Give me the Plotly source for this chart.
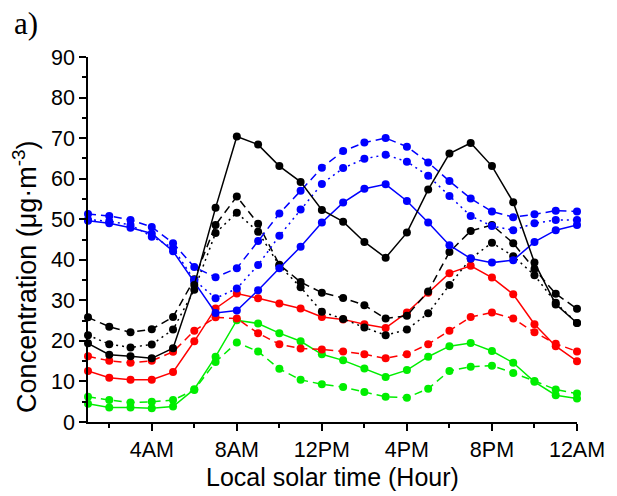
import plotly.graph_objects as go

# Hour of day (local solar time)
hours = list(range(1, 25))

# Hourly concentrations (ug/m3)
black_solid = [19.4, 16.6, 16.2, 15.7, 18.2, 33.8, 52.8, 70.4, 68.4, 63.1, 59.2, 52.3,
               49.4, 44.4, 40.5, 46.7, 57.3, 66.2, 68.8, 63.1, 54.2, 39.3, 29.0, 24.4]
black_dash = [25.8, 23.5, 22.1, 22.9, 25.9, 35.2, 48.6, 55.6, 48.9, 38.8, 34.5, 31.9,
              30.6, 28.8, 25.5, 26.2, 32.2, 41.9, 47.1, 48.6, 44.1, 37.7, 31.6, 27.9]
black_dot = [21.4, 19.2, 18.4, 19.1, 22.8, 32.6, 46.6, 51.6, 46.9, 38.6, 33.2, 27.2,
             25.4, 23.3, 21.4, 22.8, 26.8, 33.8, 40.3, 44.2, 40.9, 36.2, 29.4, 24.4]

blue_solid = [49.6, 49.0, 47.9, 46.5, 42.1, 34.5, 26.9, 27.5, 32.5, 37.9, 43.2, 49.2,
              54.1, 57.5, 58.6, 54.5, 49.2, 43.6, 40.3, 39.3, 39.9, 44.4, 47.3, 48.6]
blue_dash = [51.3, 50.8, 49.8, 48.1, 44.1, 38.2, 35.7, 37.9, 44.6, 51.4, 57.0, 62.7,
             66.8, 68.9, 70.0, 67.9, 64.0, 59.4, 55.1, 51.9, 50.5, 51.2, 52.1, 51.9]
blue_dot = [49.9, 49.5, 48.6, 45.7, 42.9, 35.0, 30.5, 32.9, 38.7, 45.9, 52.4, 58.7,
            62.6, 64.9, 65.9, 64.2, 60.7, 55.7, 50.8, 48.3, 47.3, 49.0, 49.8, 49.8]

red_solid = [12.6, 10.9, 10.4, 10.4, 12.3, 19.9, 28.0, 31.7, 30.5, 29.2, 28.0, 25.9,
             25.3, 24.1, 23.2, 27.0, 31.9, 36.7, 38.5, 35.6, 31.5, 24.1, 18.7, 15.0]
red_dash = [16.2, 15.1, 14.6, 15.1, 17.3, 22.5, 25.8, 25.5, 21.9, 19.2, 18.1, 17.9,
            17.4, 16.7, 15.7, 16.7, 19.2, 22.5, 25.9, 27.0, 25.5, 22.1, 19.3, 17.4]

green_solid = [4.5, 3.6, 3.6, 3.4, 3.8, 8.1, 16.1, 25.1, 24.3, 21.9, 19.9, 16.7,
               15.2, 13.2, 11.1, 12.8, 16.1, 18.7, 19.5, 17.5, 14.6, 9.9, 6.6, 5.8]
green_dash = [6.2, 5.4, 4.8, 5.0, 5.4, 7.9, 14.8, 19.6, 17.4, 13.1, 10.4, 9.3,
              8.6, 7.4, 6.2, 6.0, 8.2, 12.6, 13.6, 13.9, 12.1, 10.1, 8.0, 7.0]

tick_hours = [4, 8, 12, 16, 20, 24]
tick_labels = ["4AM", "8AM", "12PM", "4PM", "8PM", "12AM"]
minor_hours = [2, 6, 10, 14, 18, 22]

BLACK, BLUE, RED, GREEN = "#000000", "#0000ff", "#ff0000", "#00ee00"
DASH = "8px,5px"
DOT = "2px,4px"

series = [
    (green_dash, GREEN, DASH),
    (green_solid, GREEN, "solid"),
    (red_dash, RED, DASH),
    (red_solid, RED, "solid"),
    (black_dot, BLACK, DOT),
    (black_dash, BLACK, DASH),
    (blue_dot, BLUE, DOT),
    (blue_dash, BLUE, DASH),
    (blue_solid, BLUE, "solid"),
    (black_solid, BLACK, "solid"),
]

fig = go.Figure()
for vals, color, dash in series:
    fig.add_trace(go.Scatter(
        x=hours, y=vals, mode="lines+markers",
        line=dict(color=color, width=1.5, dash=dash),
        marker=dict(color=color, size=8, symbol="circle"),
        showlegend=False, cliponaxis=False,
    ))

SANS = "Liberation Sans, Arial, sans-serif"
tick_font = dict(family=SANS, size=21.5, color="black")

fig.update_xaxes(
    range=[1, 24], tickmode="array", tickvals=tick_hours, ticktext=tick_labels,
    ticks="outside", ticklen=7, tickwidth=1.5, tickcolor="black",
    minor=dict(tickmode="array", tickvals=minor_hours,
               ticks="outside", ticklen=4, tickwidth=1.5, tickcolor="black"),
    showline=True, linewidth=1.5, linecolor="black", mirror=False,
    showgrid=False, zeroline=False, tickfont=tick_font,
)
fig.update_yaxes(
    range=[0, 90], tickmode="linear", tick0=0, dtick=10,
    ticks="outside", ticklen=7, tickwidth=1.5, tickcolor="black",
    minor=dict(dtick=5, tick0=0, ticks="outside", ticklen=4, tickwidth=1.5, tickcolor="black"),
    showline=True, linewidth=1.5, linecolor="black", mirror=False,
    showgrid=False, zeroline=False, tickfont=tick_font,
)

W, H = 617, 496
L, R, T, B = 88, 33, 57, 74
PW, PH = W - L - R, H - T - B


def px_x(x):
    return (x - L) / PW


def px_y(y):
    return 1 - (y - T) / PH


fig.update_layout(
    width=W, height=H,
    margin=dict(l=L, r=R, t=T, b=B),
    plot_bgcolor="white", paper_bgcolor="white",
    annotations=[
        dict(text="a)", xref="paper", yref="paper", x=px_x(11), y=px_y(4),
             xanchor="left", yanchor="top", showarrow=False,
             font=dict(family="Liberation Serif, Times New Roman, serif", size=31, color="black")),
        dict(text="Local solar time (Hour)", xref="paper", yref="paper",
             x=0.5, y=px_y(477), xanchor="center", yanchor="middle", showarrow=False,
             font=dict(family=SANS, size=25, color="black")),
        dict(text="Concentration (\u03bcg\u00b7m<sup>-3</sup>)", xref="paper", yref="paper",
             x=px_x(24), y=px_y(277), xanchor="center", yanchor="middle", textangle=-90,
             showarrow=False, font=dict(family=SANS, size=27, color="black")),
    ],
)

fig.write_html("out.html")
